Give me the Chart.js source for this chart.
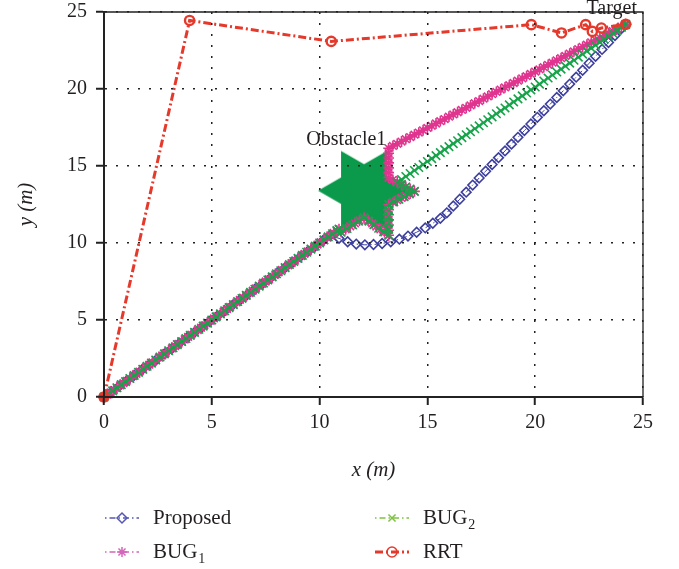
<!DOCTYPE html>
<html>
<head>
<meta charset="utf-8">
<title>Path comparison</title>
<script src="https://cdn.jsdelivr.net/npm/chart.js@4.4.1/dist/chart.umd.min.js"></script>
<style>
  html, body { margin: 0; padding: 0; background: #fff; }
  #wrap { position: relative; width: 679px; height: 569px; }
</style>
</head>
<body>
<div id="wrap"><canvas id="paths"></canvas></div>
<script>
// robot paths, [x, y] in metres
const proposedPath = [
  [0,0],[0.35,0.35],[0.7,0.7],[1.05,1.05],[1.4,1.4],[1.75,1.75],[2.1,2.1],[2.45,2.45],[2.8,2.8],[3.15,3.15],
  [3.5,3.5],[3.85,3.85],[4.2,4.2],[4.55,4.55],[4.9,4.9],[5.25,5.25],[5.6,5.6],[5.95,5.95],[6.3,6.3],[6.65,6.65],
  [7,7],[7.35,7.35],[7.7,7.7],[8.05,8.05],[8.4,8.4],[8.75,8.75],[9.1,9.1],[9.45,9.45],[9.8,9.8],[10.15,10.15],
  [10.5,10.5],[10.9,10.3],[11.3,10.08],[11.7,9.93],[12.1,9.88],[12.5,9.9],[12.9,9.97],[13.3,10.08],[13.7,10.25],
  [14.1,10.45],[14.5,10.7],[14.9,10.98],[15.25,11.28],[15.6,11.6],[15.9,11.96],[16.2,12.4],[16.5,12.84],
  [16.8,13.3],[17.1,13.76],[17.4,14.22],[17.7,14.66],[18,15.1],[18.3,15.54],[18.6,15.98],[18.9,16.42],
  [19.2,16.86],[19.5,17.3],[19.8,17.73],[20.1,18.16],[20.4,18.59],[20.7,19.02],[21,19.45],[21.3,19.88],
  [21.6,20.32],[21.9,20.77],[22.2,21.22],[22.5,21.67],[22.8,22.12],[23.1,22.57],[23.4,23.02],[23.7,23.47],
  [24,23.92],[24.2,24.2]
];
const bug1Path = [
  [0,0],[0.15,0.15],[0.3,0.3],[0.45,0.45],[0.6,0.6],[0.75,0.75],[0.9,0.9],[1.05,1.05],[1.2,1.2],[1.35,1.35],
  [1.5,1.5],[1.65,1.65],[1.8,1.8],[1.95,1.95],[2.1,2.1],[2.25,2.25],[2.4,2.4],[2.55,2.55],[2.7,2.7],[2.85,2.85],
  [3,3],[3.15,3.15],[3.3,3.3],[3.45,3.45],[3.6,3.6],[3.75,3.75],[3.9,3.9],[4.05,4.05],[4.2,4.2],[4.35,4.35],
  [4.5,4.5],[4.65,4.65],[4.8,4.8],[4.95,4.95],[5.1,5.1],[5.25,5.25],[5.4,5.4],[5.55,5.55],[5.7,5.7],[5.85,5.85],
  [6,6],[6.15,6.15],[6.3,6.3],[6.45,6.45],[6.6,6.6],[6.75,6.75],[6.9,6.9],[7.05,7.05],[7.2,7.2],[7.35,7.35],
  [7.5,7.5],[7.65,7.65],[7.8,7.8],[7.95,7.95],[8.1,8.1],[8.25,8.25],[8.4,8.4],[8.55,8.55],[8.7,8.7],[8.85,8.85],
  [9,9],[9.15,9.15],[9.3,9.3],[9.45,9.45],[9.6,9.6],[9.75,9.75],[9.9,9.9],[10.05,10.05],[10.2,10.2],[10.35,10.35],
  [10.5,10.5],[10.65,10.65],[10.8,10.8],[10.9,10.9],
  [11,10.7],[11.21,10.89],[11.42,11.08],[11.64,11.27],[11.85,11.46],[12.06,11.65],
  [12.25,11.46],[12.44,11.27],[12.63,11.07],[12.82,10.88],[13.01,10.69],[13.2,10.5],
  [13.2,10.83],[13.2,11.17],[13.2,11.5],[13.2,11.83],[13.2,12.17],[13.2,12.5],
  [13.4,12.64],[13.6,12.78],[13.8,12.93],[14,13.07],[14.2,13.21],[14.4,13.35],
  [14.2,13.5],[14,13.65],[13.8,13.8],[13.6,13.95],[13.4,14.1],[13.2,14.25],
  [13.2,14.57],[13.2,14.88],[13.2,15.2],[13.2,15.52],[13.2,15.83],[13.2,16.15],
  [13.4,16.3],[13.6,16.44],[13.8,16.59],[14,16.74],[14.2,16.88],[14.4,17.03],[14.6,17.17],[14.8,17.32],
  [15,17.47],[15.2,17.61],[15.4,17.76],[15.6,17.91],[15.8,18.05],[16,18.2],[16.2,18.35],[16.4,18.49],
  [16.6,18.64],[16.8,18.78],[17,18.93],[17.2,19.08],[17.4,19.22],[17.6,19.37],[17.8,19.52],[18,19.66],
  [18.2,19.81],[18.4,19.96],[18.6,20.1],[18.8,20.25],[19,20.39],[19.2,20.54],[19.4,20.69],[19.6,20.83],
  [19.8,20.98],[20,21.13],[20.2,21.27],[20.4,21.42],[20.6,21.57],[20.8,21.71],[21,21.86],[21.2,22],
  [21.4,22.15],[21.6,22.3],[21.8,22.44],[22,22.59],[22.2,22.74],[22.4,22.88],[22.6,23.03],[22.8,23.18],
  [23,23.32],[23.2,23.47],[23.4,23.61],[23.6,23.76],[23.8,23.91],[24,24.05],[24.2,24.2]
];
const bug2Path = [
  [0,0],[0.2,0.2],[0.4,0.4],[0.6,0.6],[0.8,0.8],[1,1],[1.2,1.2],[1.4,1.4],[1.6,1.6],[1.8,1.8],
  [2,2],[2.2,2.2],[2.4,2.4],[2.6,2.6],[2.8,2.8],[3,3],[3.2,3.2],[3.4,3.4],[3.6,3.6],[3.8,3.8],
  [4,4],[4.2,4.2],[4.4,4.4],[4.6,4.6],[4.8,4.8],[5,5],[5.2,5.2],[5.4,5.4],[5.6,5.6],[5.8,5.8],
  [6,6],[6.2,6.2],[6.4,6.4],[6.6,6.6],[6.8,6.8],[7,7],[7.2,7.2],[7.4,7.4],[7.6,7.6],[7.8,7.8],
  [8,8],[8.2,8.2],[8.4,8.4],[8.6,8.6],[8.8,8.8],[9,9],[9.2,9.2],[9.4,9.4],[9.6,9.6],[9.8,9.8],
  [10,10],[10.2,10.2],[10.4,10.4],[10.6,10.6],[10.8,10.8],[10.9,10.9],
  [11,10.7],[11.27,10.94],[11.53,11.18],[11.8,11.41],[12.06,11.65],
  [12.29,11.42],[12.52,11.19],[12.74,10.96],[12.97,10.73],[13.2,10.5],
  [13.2,10.9],[13.2,11.3],[13.2,11.7],[13.2,12.1],[13.2,12.5],
  [13.44,12.67],[13.68,12.84],[13.92,13.01],[14.16,13.18],[14.4,13.35],
  [14.2,13.5],[14,13.64],[13.8,13.79],[13.6,13.93],
  [13.8,14.12],[14,14.32],[14.2,14.51],[14.4,14.71],[14.6,14.9],[14.8,15.09],[15,15.29],[15.2,15.48],
  [15.4,15.67],[15.6,15.87],[15.8,16.06],[16,16.26],[16.2,16.45],[16.4,16.64],[16.6,16.84],[16.8,17.03],
  [17,17.22],[17.2,17.42],[17.4,17.61],[17.6,17.81],[17.8,18],[18,18.19],[18.2,18.39],[18.4,18.58],
  [18.6,18.77],[18.8,18.97],[19,19.16],[19.2,19.36],[19.4,19.55],[19.6,19.74],[19.8,19.94],[20,20.13],
  [20.2,20.32],[20.4,20.52],[20.6,20.71],[20.8,20.91],[21,21.1],[21.2,21.29],[21.4,21.49],[21.6,21.68],
  [21.8,21.87],[22,22.07],[22.2,22.26],[22.4,22.46],[22.6,22.65],[22.8,22.84],[23,23.04],[23.2,23.23],
  [23.4,23.43],[23.6,23.62],[23.8,23.81],[24,24.01],[24.2,24.2]
];
const rrtPath = [
  [0,0],[3.97,24.45],[10.54,23.09],[19.82,24.18],[21.22,23.64],[22.34,24.18],[22.65,23.74],[23.07,23.96],[24.2,24.2]
];

// obstacle centre and text notes
const obstacleX = [12.06];
const obstacleY = [13.4];
const noteText = ['Obstacle1', 'Target'];
const noteX = [11.24, 23.55];
const noteY = [16.7, 25.2];

const seriesLabels = ['Proposed', 'BUG_1', 'BUG_2', 'RRT'];
const axisTicks = [0, 5, 10, 15, 20, 25];

const BLUE = '#3d3f9f', PINK = '#e0358f', GREEN = '#17a34a', RED = '#e5392b', STAR = '#0b9a4b';
const legendColors = ['#5557b3', '#d466bb', '#7fc242', '#e5392b'];
const SERIF = '"Liberation Serif", "DejaVu Serif", serif';

Chart.defaults.font.family = SERIF;
Chart.defaults.color = '#231f20';

const toXY = pts => pts.map(p => ({ x: p[0], y: p[1] }));

// filled six-point star used as the obstacle marker
function hexagram(radius, color) {
  const c = document.createElement('canvas');
  const size = Math.ceil(radius * 2 + 2);
  c.width = size;
  c.height = size;
  const g = c.getContext('2d');
  const inner = radius / Math.sqrt(3);
  g.beginPath();
  for (let i = 0; i < 12; i++) {
    const a = i * Math.PI / 6;
    const r = i % 2 === 0 ? radius : inner;
    const px = size / 2 + r * Math.cos(a);
    const py = size / 2 - r * Math.sin(a);
    if (i === 0) g.moveTo(px, py); else g.lineTo(px, py);
  }
  g.closePath();
  g.fillStyle = color;
  g.fill();
  return c;
}

// top and right edges of the box
const framePlugin = {
  id: 'frame',
  beforeDatasetsDraw(chart) {
    const { ctx, chartArea: a } = chart;
    ctx.save();
    ctx.strokeStyle = '#222';
    ctx.lineWidth = 1.3;
    ctx.beginPath();
    ctx.moveTo(a.left, a.top);
    ctx.lineTo(a.right, a.top);
    ctx.lineTo(a.right, a.bottom);
    ctx.stroke();
    ctx.restore();
  }
};

const notesPlugin = {
  id: 'notes',
  afterDatasetsDraw(chart) {
    const { ctx, scales } = chart;
    ctx.save();
    ctx.font = '20px ' + SERIF;
    ctx.fillStyle = '#231f20';
    ctx.textAlign = 'center';
    ctx.textBaseline = 'middle';
    noteText.forEach((t, i) => {
      ctx.fillText(t, scales.x.getPixelForValue(noteX[i]), scales.y.getPixelForValue(noteY[i]));
    });
    ctx.restore();
  }
};

// two-column legend under the x axis title
const legendSlots = [[105, 518], [105, 552], [375, 518], [375, 552]];
const legendDashOffset = [9, 9, 9, 0];
const legendPlugin = {
  id: 'pathLegend',
  afterDraw(chart) {
    const ctx = chart.ctx;
    seriesLabels.forEach((label, i) => {
      const ds = chart.data.datasets.find(d => d.label === label);
      const [x0, y] = legendSlots[i];
      ctx.save();
      ctx.strokeStyle = legendColors[i];
      ctx.lineWidth = Math.max(ds.borderWidth, 1.6);
      ctx.setLineDash(ds.borderDash || []);
      ctx.lineDashOffset = legendDashOffset[i];
      ctx.beginPath();
      ctx.moveTo(x0, y);
      ctx.lineTo(x0 + 34, y);
      ctx.stroke();
      ctx.setLineDash([]);
      ctx.fillStyle = 'rgba(0,0,0,0)';
      ctx.lineWidth = 1.5;
      Chart.helpers.drawPoint(ctx, { pointStyle: ds.pointStyle, radius: 5, borderWidth: 1.5, rotation: 0 }, x0 + 17, y);
      const [main, sub] = label.split('_');
      ctx.fillStyle = '#231f20';
      ctx.textBaseline = 'middle';
      ctx.textAlign = 'left';
      ctx.font = '21px ' + SERIF;
      ctx.fillText(main, x0 + 48, y);
      if (sub) {
        const w = ctx.measureText(main).width;
        ctx.font = '14px ' + SERIF;
        ctx.fillText(sub, x0 + 48 + w + 1, y + 7);
      }
      ctx.restore();
    });
  }
};

const axisGrid = { color: '#222', lineWidth: 1.5, drawTicks: true, tickLength: 8, tickWidth: 2, tickColor: '#222', z: 1 };
// border z above the grid so its position is already computed when drawn
const axisBorder = { display: true, color: '#222', width: 2, dash: [2, 9], z: 2 };

new Chart(document.getElementById('paths'), {
  type: 'scatter',
  data: {
    datasets: [
      {
        label: 'RRT', data: toXY(rrtPath), showLine: true, order: 0, clip: false,
        borderColor: RED, borderWidth: 3, borderDash: [8, 3, 2, 3],
        pointStyle: 'circle', pointRadius: 4.6, pointBorderWidth: 2.4, pointBorderColor: RED,
        pointBackgroundColor: c => (c.dataIndex === 0 ? RED : 'rgba(0,0,0,0)')
      },
      {
        label: 'BUG_2', data: toXY(bug2Path), showLine: true, order: 1, clip: false,
        borderColor: GREEN, borderWidth: 1, borderDash: [6, 3, 1.5, 3],
        pointStyle: 'crossRot', pointRadius: 6, pointBorderWidth: 1.6, pointBorderColor: GREEN,
        pointBackgroundColor: GREEN
      },
      {
        label: 'BUG_1', data: toXY(bug1Path), showLine: true, order: 2, clip: false,
        borderColor: PINK, borderWidth: 1, borderDash: [6, 3, 1.5, 3],
        pointStyle: 'star', pointRadius: 5.4, pointBorderWidth: 1.6, pointBorderColor: PINK,
        pointBackgroundColor: PINK
      },
      {
        label: 'Proposed', data: toXY(proposedPath), showLine: true, order: 3, clip: false,
        borderColor: BLUE, borderWidth: 1, borderDash: [6, 3, 1.5, 3],
        pointStyle: 'rectRot', pointRadius: 4.8, pointBorderWidth: 1.6, pointBorderColor: BLUE,
        pointBackgroundColor: 'rgba(0,0,0,0)'
      },
      {
        label: 'Obstacle1', data: obstacleX.map((x, i) => ({ x, y: obstacleY[i] })), showLine: false, order: 4, clip: false,
        pointStyle: hexagram(46, STAR), pointRadius: 46, pointBorderWidth: 0
      }
    ]
  },
  options: {
    responsive: true,
    maintainAspectRatio: false,
    animation: false,
    events: [],
    layout: { autoPadding: false, padding: { top: 12, right: 36, bottom: 86, left: 0 } },
    plugins: { legend: { display: false }, tooltip: { enabled: false } },
    scales: {
      x: {
        type: 'linear', min: 0, max: 25,
        afterBuildTicks: s => { s.ticks = axisTicks.map(v => ({ value: v })); },
        afterFit: s => { s.height = 86; s.paddingLeft = 0; s.paddingRight = 0; },
        ticks: { font: { size: 20 }, padding: 6, color: '#231f20' },
        grid: axisGrid,
        border: axisBorder,
        title: { display: true, text: 'x (m)', font: { size: 21, style: 'italic' }, padding: { top: 0, bottom: 0 }, color: '#231f20' }
      },
      y: {
        type: 'linear', min: 0, max: 25,
        afterBuildTicks: s => { s.ticks = axisTicks.map(v => ({ value: v })); },
        afterFit: s => { s.width = 104; s.paddingTop = 0; s.paddingBottom = 0; },
        ticks: { font: { size: 20 }, padding: 9, color: '#231f20' },
        grid: axisGrid,
        border: axisBorder,
        title: { display: true, text: 'y (m)', font: { size: 21, style: 'italic' }, padding: { top: 14, bottom: 0 }, color: '#231f20' }
      }
    }
  },
  plugins: [framePlugin, notesPlugin, legendPlugin]
});
</script>
</body>
</html>
